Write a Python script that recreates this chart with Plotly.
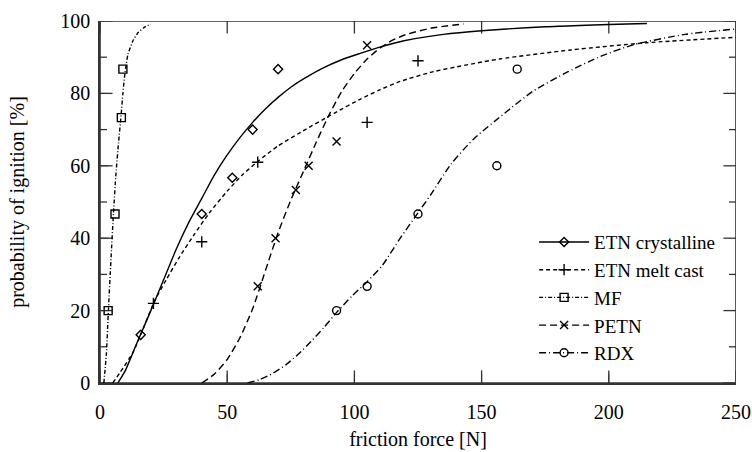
import plotly.graph_objects as go

# ---- measured data points ----
cryst_x = [16, 40, 52, 60, 70]
cryst_y = [13.3, 46.7, 56.7, 70, 86.7]
melt_x = [21, 40, 62, 105, 125]
melt_y = [22, 39, 61, 72, 89]
mf_x = [3.2, 5.9, 8.4, 9.0]
mf_y = [20, 46.7, 73.3, 86.7]
petn_x = [62, 69, 77, 82, 93, 105]
petn_y = [26.7, 40, 53.3, 60, 66.7, 93.3]
rdx_x = [93, 105, 125, 156, 164]
rdx_y = [20, 26.7, 46.7, 60, 86.7]

# ---- fitted curves ----
cryst_cx = [7, 10, 13, 16, 20, 25, 30, 35, 40, 45, 50, 55, 60, 65, 70, 75, 80, 87, 95, 102, 110, 120, 135, 150, 175, 215]
cryst_cy = [0, 3.5, 8.5, 13.5, 20, 28.5, 37, 44.5, 51, 57.5, 63, 67.8, 72, 75.7, 78.9, 81.7, 84, 86.8, 89.3, 91, 92.8, 94.6, 96.3, 97.3, 98.4, 99.3]
melt_cx = [5, 8, 13, 17, 21, 26, 31, 37, 43, 50, 56, 62, 70, 79, 92, 102, 110, 118, 131, 157, 185, 215, 250]
melt_cy = [0, 3, 8.5, 15, 22, 28.5, 34.5, 41, 47, 53, 57.5, 61.2, 65.5, 69.3, 74.5, 78.3, 81, 83.3, 86, 89.5, 92, 94, 95.5]
mf_cx = [1.5, 2.5, 3.3, 4.3, 5.3, 6.3, 7.3, 8.3, 9.0, 9.8, 11, 13, 15, 17.5, 20]
mf_cy = [0, 8, 20, 34, 47, 58, 66.5, 74, 80, 85.5, 90.8, 94.6, 96.8, 98.3, 99.1]
petn_cx = [40, 45, 50, 55, 60, 65, 70, 75, 80, 85, 90, 95, 100, 105, 110, 115, 120, 130, 143]
petn_cy = [0, 2.5, 6.5, 12.5, 20.5, 31, 41.5, 50.5, 58.5, 66.5, 74, 80.5, 85.5, 89.5, 92.5, 94.7, 96.2, 98, 99.2]
rdx_cx = [58, 63, 68, 73, 78, 83, 88, 93, 99, 105, 111, 118, 125, 130, 138, 147, 159, 170, 184, 197, 210, 230, 250]
rdx_cy = [0, 1, 2.7, 5, 8, 11.5, 15.3, 19.5, 24, 28, 32.5, 40, 47, 52, 60.5, 67.5, 74.5, 80.5, 86, 90.3, 93.5, 96.3, 97.8]

names = ["ETN crystalline", "ETN melt cast", "MF", "PETN", "RDX"]
x_ticks = [0, 50, 100, 150, 200, 250]
y_ticks = [0, 20, 40, 60, 80, 100]
y_minor_ticks = [10, 30, 50, 70, 90]
x_range = [0, 250]
y_range = [0, 100]

FONT = "Liberation Serif"
FRAME = "#333333"
series = [
    (names[0], cryst_x, cryst_y, cryst_cx, cryst_cy, "solid", "diamond-open", 7),
    (names[1], melt_x, melt_y, melt_cx, melt_cy, "4px,3px", "cross-thin", 8),
    (names[2], mf_x, mf_y, mf_cx, mf_cy, "4px,2px,1px,2px", "square-open", 8),
    (names[3], petn_x, petn_y, petn_cx, petn_cy, "7px,4px", "x-thin", 8),
    (names[4], rdx_x, rdx_y, rdx_cx, rdx_cy, "7px,3px,1px,3px", "circle-open", 8),
]

fig = go.Figure()

# frame around the plotting area, built from the axis ranges
x0, x1 = x_range
y0, y1 = y_range
fig.add_trace(go.Scatter(
    x=[x0, x1, x1, x0, x0], y=[y0, y0, y1, y1, y0], mode="lines",
    line=dict(color=FRAME, width=1.6), cliponaxis=False,
    showlegend=False, hoverinfo="skip"))

# inward tick marks on all four sides (outer half clipped by the plot area)
def tick_trace(xs, ys, symbol, size):
    return go.Scatter(
        x=xs, y=ys, mode="markers", cliponaxis=True,
        marker=dict(symbol=symbol, size=size, color=FRAME, line=dict(color=FRAME, width=1.3)),
        showlegend=False, hoverinfo="skip")

fig.add_trace(tick_trace(x_ticks, [y0] * len(x_ticks), "line-ns-open", 18))
fig.add_trace(tick_trace(x_ticks, [y1] * len(x_ticks), "line-ns-open", 18))
fig.add_trace(tick_trace([x0] * len(y_ticks), y_ticks, "line-ew-open", 18))
fig.add_trace(tick_trace([x1] * len(y_ticks), y_ticks, "line-ew-open", 18))
fig.add_trace(tick_trace([x0] * len(y_minor_ticks), y_minor_ticks, "line-ew-open", 10))
fig.add_trace(tick_trace([x1] * len(y_minor_ticks), y_minor_ticks, "line-ew-open", 10))

for name, px, py, cx, cy, dash, sym, sz in series:
    fig.add_trace(go.Scatter(
        x=cx, y=cy, mode="lines",
        line=dict(color="black", width=1.4, dash=dash, shape="spline", smoothing=0.6),
        showlegend=False, hoverinfo="skip"))
    fig.add_trace(go.Scatter(
        x=px, y=py, mode="markers",
        marker=dict(symbol=sym, size=sz, color="black", line=dict(color="black", width=1.4)),
        showlegend=False))
    fig.add_trace(go.Scatter(
        x=[None], y=[None], mode="lines+markers", name=name,
        line=dict(color="black", width=1.4, dash=dash),
        marker=dict(symbol=sym, size=sz, color="black", line=dict(color="black", width=1.4))))

axis_common = dict(
    showline=True, linecolor=FRAME, linewidth=1.6, automargin=False,
    ticks="inside", ticklen=9, tickwidth=1.3, tickcolor=FRAME,
    showgrid=False, zeroline=False,
    tickfont=dict(family=FONT, size=20, color="black"),
)

fig.update_layout(
    width=752, height=452,
    margin=dict(l=100, r=16, t=21, b=69, autoexpand=False),
    plot_bgcolor="white", paper_bgcolor="white",
    font=dict(family=FONT, size=20, color="black"),
    xaxis=dict(range=x_range, tickvals=x_ticks, ticklabelstandoff=10,
               title=dict(text="friction force [N]", font=dict(family=FONT, size=20, color="black"), standoff=10),
               **axis_common),
    yaxis=dict(range=y_range, tickvals=y_ticks, ticklabelstandoff=4,
               title=dict(text="probability of ignition [%]", font=dict(family=FONT, size=20, color="black"), standoff=30),
               **axis_common),
    legend=dict(x=0.975, y=0.03, xanchor="right", yanchor="bottom",
                bgcolor="rgba(255,255,255,0)", font=dict(family=FONT, size=19),
                tracegroupgap=0, itemwidth=50),
)

post = (
    "document.body.style.margin='0';document.body.style.overflow='hidden';"
    "var s=document.createElement('style');"
    "s.innerHTML='.js-plotly-plot .plotly .crisp, .js-plotly-plot .plotly path{shape-rendering:auto !important;}';"
    "document.head.appendChild(s);"
)
fig.write_html("out.html", config={"displayModeBar": False}, post_script=post)
